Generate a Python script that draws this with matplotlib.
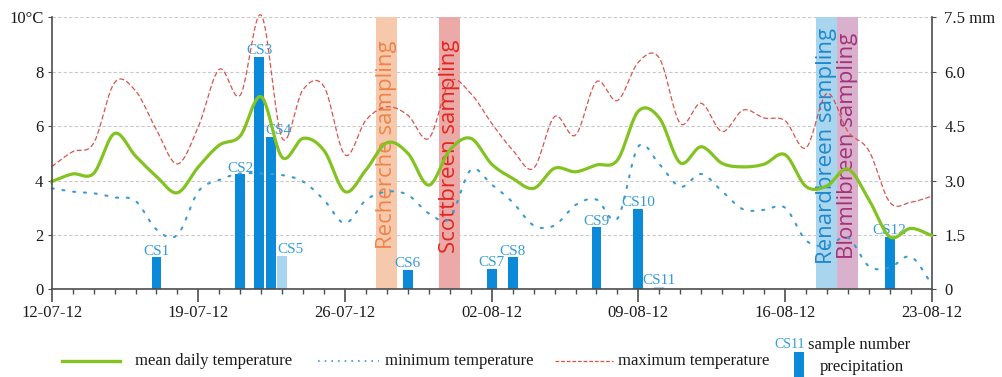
import numpy as np
import matplotlib.pyplot as plt
from matplotlib.lines import Line2D
from matplotlib.patches import Rectangle

# daily air temperature, day 0 = 12-07-12 ... day 42 = 23-08-12
days = np.arange(43)
t_mean = [3.96, 4.24, 4.26, 5.73, 4.9, 4.15, 3.55, 4.5, 5.3, 5.64,
          7.08, 4.85, 5.55, 5.1, 3.59, 4.39, 5.39, 5.0, 3.83, 5.12,
          5.55, 4.6, 4.08, 3.71, 4.45, 4.32, 4.57, 4.75, 6.55, 6.3,
          4.65, 5.24, 4.63, 4.5, 4.6, 4.95, 3.78, 3.8, 4.42, 3.3,
          1.93, 2.24, 1.98]
t_min = [3.71, 3.59, 3.53, 3.38, 3.25, 2.2, 2.0, 3.6, 4.02, 4.26,
         4.25, 4.2, 3.96, 3.28, 2.43, 3.28, 3.59, 3.47, 2.79, 2.61,
         4.39, 3.85, 3.2, 2.35, 2.35, 3.1, 3.3, 2.6, 5.25, 4.6,
         3.77, 4.24, 3.6, 2.94, 2.92, 3.0, 1.8, 1.6, 1.9, 0.85,
         0.8, 1.2, 0.2]
t_max = [4.51, 5.06, 5.37, 7.6, 7.3, 5.86, 4.61, 5.98, 8.09, 7.14,
         10.08, 5.55, 7.35, 7.45, 4.94, 6.22, 6.71, 6.4, 5.55, 7.63,
         7.2, 6.1, 5.12, 4.45, 6.35, 5.67, 7.63, 6.94, 8.35, 8.5,
         6.1, 6.84, 5.8, 6.59, 6.3, 6.2, 5.2, 7.2, 5.8, 5.1,
         3.2, 3.2, 3.42]

# precipitation samples (day, mm)
samples = ['CS1', 'CS2', 'CS3', 'CS4', 'CS5', 'CS6', 'CS7', 'CS8',
           'CS9', 'CS10', 'CS11', 'CS12']
sample_day = [5, 9, 9.9, 10.45, 11, 17, 21, 22, 26, 28, 29, 40]
precip = [0.88, 3.17, 6.41, 4.21, 0.93, 0.53, 0.57, 0.88, 1.71, 2.21, 0.07, 1.45]
light = ['CS5', 'CS11']

# sampling campaigns
campaigns = ['Recherche sampling', 'Scottbreen sampling',
             'Renardbreen sampling', 'Blomlibreen sampling']
campaign_span = [(15.5, 16.5), (18.5, 19.5), (36.5, 37.5), (37.5, 38.5)]

date_labels = ['12-07-12', '19-07-12', '26-07-12', '02-08-12',
               '09-08-12', '16-08-12', '23-08-12']

band_col = ['#f6c9ad', '#eba9a7', '#a9d5ee', '#d9b1cd']
text_col = ['#ee8447', '#e2261f', '#1f88cc', '#a3337b']
text_top = [0.917, 0.919, 0.96, 0.942]

GREEN = '#82c322'
RED = '#d9544c'
BLUE = '#3b9bd1'
BAR = '#0a8ad8'
BAR_LIGHT = '#a8d6f2'
LABEL = '#359cd8'
AXIS = '#4d4d4d'
INK = '#1a1a1a'
SERIF = 'Liberation Serif'


def smooth(x, y, n=24):
    # Catmull-Rom curve through the daily values
    x = np.asarray(x, float)
    y = np.asarray(y, float)
    px = np.r_[2 * x[0] - x[1], x, 2 * x[-1] - x[-2]]
    py = np.r_[2 * y[0] - y[1], y, 2 * y[-1] - y[-2]]
    t = np.linspace(0, 1, n, endpoint=False)
    xs, ys = [], []
    for i in range(1, len(px) - 2):
        for arr, out in ((px, xs), (py, ys)):
            p0, p1, p2, p3 = arr[i - 1:i + 3]
            out.append(0.5 * (2 * p1 + (p2 - p0) * t
                              + (2 * p0 - 5 * p1 + 4 * p2 - p3) * t ** 2
                              + (3 * p1 - p0 - 3 * p2 + p3) * t ** 3))
    return np.concatenate(xs + [x[-1:]]), np.concatenate(ys + [y[-1:]])


W, H = 1002, 377
fig = plt.figure(figsize=(W / 100, H / 100), dpi=100)
ax = fig.add_axes([51.7 / W, 1 - 289.3 / H, 880 / W, 272 / H])
axp = ax.twinx()
ax.set_zorder(axp.get_zorder() + 1)
ax.patch.set_visible(False)
axp.patch.set_facecolor('#f3f3f3')

# precipitation axis: grid, campaigns, bars
axp.set_ylim(0, 7.5)
axp.set_yticks([0, 1.5, 3.0, 4.5, 6.0, 7.5])
axp.set_yticklabels(['0', '1.5', '3.0', '4.5', '6.0', '7.5 mm'])
axp.set_axisbelow(True)
axp.yaxis.grid(True, color='#c9c9c9', ls=(0, (3, 2)), lw=0.8)

for name, (a, b), bc, tc, top in zip(campaigns, campaign_span, band_col, text_col, text_top):
    axp.axvspan(a, b, color=bc, lw=0, zorder=0.8)
    axp.text((a + b) / 2, top, name, transform=axp.get_xaxis_transform(),
             rotation=90, ha='center', va='top', fontsize=16,
             family='Open Sans', color=tc, zorder=0.9)

for name, d, p in zip(samples, sample_day, precip):
    axp.bar(d, p, width=0.47, color=BAR_LIGHT if name in light else BAR, zorder=2)
    if name in ('CS4', 'CS5'):
        axp.annotate(name, (d - 0.235, p), xytext=(0, 2), textcoords='offset points',
                     ha='left', va='baseline', fontsize=11, family=SERIF, color=LABEL)
    else:
        axp.annotate(name, (d, p), xytext=(0, 2), textcoords='offset points',
                     ha='center', va='baseline', fontsize=11, family=SERIF, color=LABEL)

# temperature lines
x, y = smooth(days, t_min)
ax.plot(x, y, color=BLUE, lw=1.5, ls=(0, (1, 4.2)), dash_capstyle='round', clip_on=False)
x, y = smooth(days, t_max)
ax.plot(x, y, color=RED, lw=0.9, ls=(0, (4, 2)), clip_on=False)
x, y = smooth(days, t_mean)
ax.plot(x, y, color=GREEN, lw=2.3, clip_on=False)

ax.set_xlim(0, 42)
ax.set_ylim(0, 10)
ax.set_xticks(range(0, 43, 7))
ax.set_xticks(range(43), minor=True)
ax.set_xticklabels(date_labels)
ax.set_yticks([0, 2, 4, 6, 8, 10])
ax.set_yticklabels(['0', '2', '4', '6', '8', '10°C'])

for a in (ax, axp):
    for s in a.spines.values():
        s.set_visible(False)
    a.tick_params(labelsize=12, colors=AXIS, labelcolor=INK)
    for lab in a.get_xticklabels() + a.get_yticklabels():
        lab.set_family(SERIF)
ax.spines['left'].set_visible(True)
ax.spines['bottom'].set_visible(True)
axp.spines['right'].set_visible(True)
for s in (ax.spines['left'], ax.spines['bottom'], axp.spines['right']):
    s.set_color(AXIS)
    s.set_linewidth(1.2)
ax.tick_params(axis='x', which='major', length=9.5, width=1.2, pad=2)
ax.tick_params(axis='x', which='minor', length=3.6, width=1.0, color=AXIS)
ax.tick_params(axis='y', length=3, pad=3)
axp.tick_params(axis='y', length=3, pad=6)


# legend below the axes, placed in figure pixels
def fx(px):
    return px / W


def fy(py):
    return 1 - py / H


fig.add_artist(Line2D([fx(62), fx(120)], [fy(361)] * 2, color=GREEN, lw=2.4))
fig.text(fx(135), fy(361), 'mean daily temperature', va='center',
         fontsize=12, family=SERIF, color=INK)
fig.add_artist(Line2D([fx(318), fx(379)], [fy(361)] * 2, color=BLUE, lw=1.2,
                      ls=(0, (1, 3))))
fig.text(fx(385), fy(361), 'minimum temperature', va='center',
         fontsize=12, family=SERIF, color=INK)
fig.add_artist(Line2D([fx(555), fx(613)], [fy(361)] * 2, color=RED, lw=0.9,
                      ls=(0, (3, 1.5))))
fig.text(fx(618), fy(361), 'maximum temperature', va='center',
         fontsize=12, family=SERIF, color=INK)
fig.text(fx(805), fy(345), 'CS11', ha='right', va='center', fontsize=10,
         family=SERIF, color=LABEL)
fig.text(fx(808), fy(345), 'sample number', va='center',
         fontsize=12, family=SERIF, color=INK)
fig.add_artist(Rectangle((fx(794), 0), 10 / W, 25 / H, transform=fig.transFigure,
                         color=BAR, lw=0))
fig.text(fx(820), fy(367), 'precipitation', va='center',
         fontsize=12, family=SERIF, color=INK)

fig.savefig('out.png', dpi=100, facecolor='white')
